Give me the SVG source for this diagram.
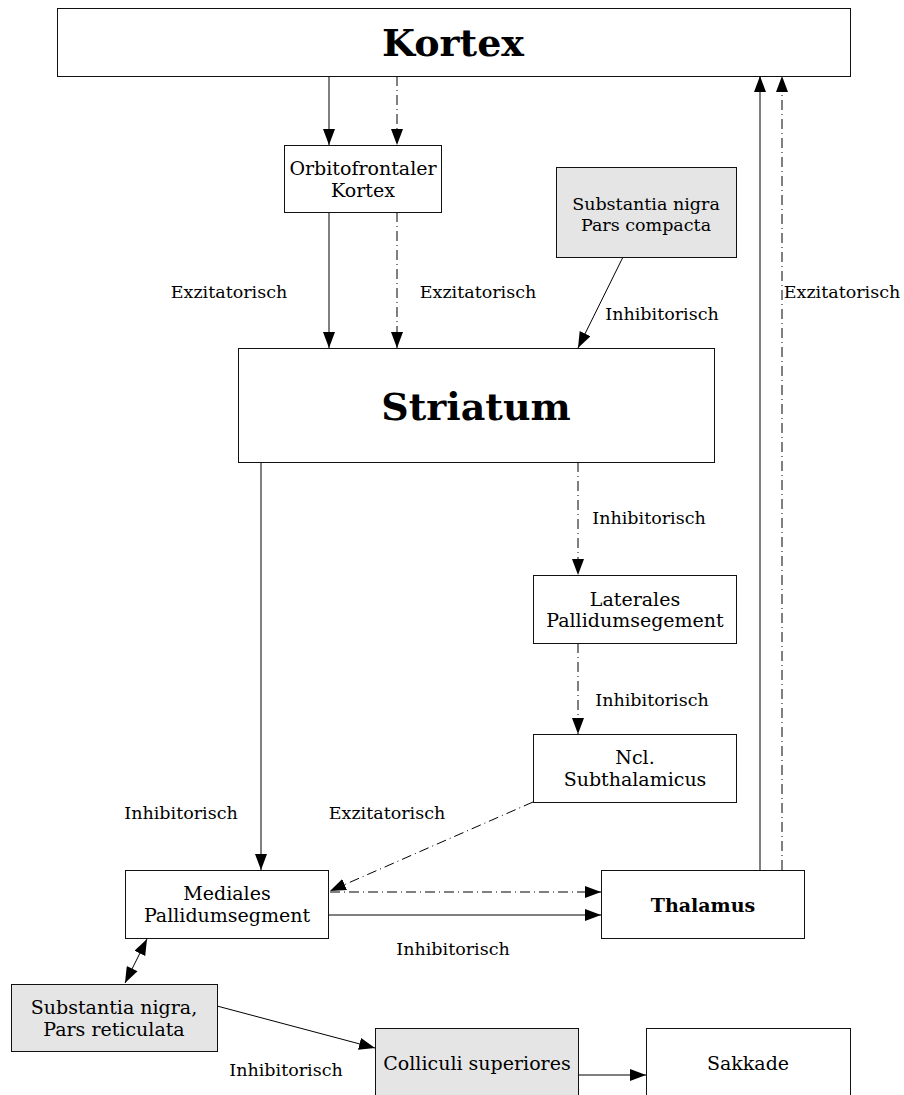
<svg xmlns="http://www.w3.org/2000/svg" width="904" height="1095" viewBox="0 0 904 1095">
<style>
.box{fill:#fff;stroke:#111;stroke-width:1}
.gray{fill:#e5e5e5;stroke:#111;stroke-width:1}
text{font-family:"DejaVu Serif","Liberation Serif",serif;fill:#000;text-anchor:middle}
.t{font-size:19px}
.s{font-size:17.5px}
.lbl{font-size:17.5px}
.big{font-size:38px;font-weight:bold}
.bold{font-size:19px;font-weight:bold}
.e{stroke:#000;stroke-width:1;fill:none;marker-end:url(#ah)}
.d{stroke-dasharray:10,4,1,4}
</style>
<defs>
<marker id="ah" markerUnits="userSpaceOnUse" markerWidth="18" markerHeight="14" refX="16" refY="6" orient="auto"><path d="M0,0 L16,6 L0,12 Z" fill="#000"/></marker>
<marker id="as" markerUnits="userSpaceOnUse" markerWidth="18" markerHeight="14" refX="0" refY="6" orient="auto"><path d="M16,0 L0,6 L16,12 Z" fill="#000"/></marker>
</defs>
<g id="connectors">
<line class="e" x1="329" y1="76" x2="329" y2="145"/>
<line class="e d" x1="397" y1="76" x2="397" y2="145"/>
<line class="e" x1="329" y1="212" x2="329" y2="348"/>
<line class="e d" x1="397" y1="212" x2="397" y2="348"/>
<line class="e" x1="623" y1="257" x2="578" y2="348"/>
<line class="e" x1="261" y1="462" x2="261" y2="870"/>
<line class="e d" x1="578" y1="462" x2="578" y2="575"/>
<line class="e d" x1="578" y1="643" x2="578" y2="734"/>
<line class="e d" x1="533" y1="802" x2="330" y2="891"/>
<line class="e d" x1="330" y1="892" x2="601" y2="892"/>
<line class="e" x1="328" y1="915" x2="601" y2="915"/>
<line class="e" x1="760" y1="870" x2="760" y2="76"/>
<line class="e d" x1="782" y1="870" x2="782" y2="76"/>
<line class="e" x1="125" y1="983" x2="147" y2="939" style="marker-start:url(#as)"/>
<line class="e" x1="217" y1="1006" x2="375" y2="1048"/>
<line class="e" x1="578" y1="1075" x2="646" y2="1075"/>
<text class="lbl" x="229" y="298">Exzitatorisch</text>
<text class="lbl" x="478" y="298">Exzitatorisch</text>
<text class="lbl" x="662" y="320">Inhibitorisch</text>
<text class="lbl" x="842" y="298">Exzitatorisch</text>
<text class="lbl" x="649" y="524">Inhibitorisch</text>
<text class="lbl" x="652" y="706">Inhibitorisch</text>
<text class="lbl" x="181" y="819">Inhibitorisch</text>
<text class="lbl" x="387" y="819">Exzitatorisch</text>
<text class="lbl" x="453" y="955">Inhibitorisch</text>
<text class="lbl" x="286" y="1076">Inhibitorisch</text>
</g>
<g id="kortex"><rect class="box" x="57.500" y="8.500" width="793" height="68"/><text class="big" x="453" y="56">Kortex</text></g>
<g id="orbitofrontal"><rect class="box" x="284.500" y="145.500" width="157" height="67"/><text class="t" x="363" y="175">Orbitofrontaler</text><text class="t" x="363" y="197">Kortex</text></g>
<g id="sn-compacta"><rect class="gray" x="556.500" y="167.500" width="180" height="90"/><text class="s" x="646" y="210">Substantia nigra</text><text class="s" x="646" y="231">Pars compacta</text></g>
<g id="striatum"><rect class="box" x="238.500" y="348.500" width="476" height="114"/><text class="big" x="476" y="420">Striatum</text></g>
<g id="laterales"><rect class="box" x="533.500" y="575.500" width="203" height="68"/><text class="t" x="635" y="606">Laterales</text><text class="t" x="635" y="627">Pallidumsegement</text></g>
<g id="ncl-subthalamicus"><rect class="box" x="533.500" y="734.500" width="203" height="68"/><text class="t" x="635" y="764">Ncl.</text><text class="t" x="635" y="786">Subthalamicus</text></g>
<g id="mediales"><rect class="box" x="125.500" y="870.500" width="203" height="68"/><text class="t" x="227" y="900">Mediales</text><text class="t" x="227" y="922">Pallidumsegment</text></g>
<g id="thalamus"><rect class="box" x="601.500" y="870.500" width="203" height="68"/><text class="bold" x="703" y="912">Thalamus</text></g>
<g id="sn-reticulata"><rect class="gray" x="11.500" y="984.500" width="206" height="67"/><text class="t" x="114" y="1014">Substantia nigra,</text><text class="t" x="114" y="1036">Pars reticulata</text></g>
<g id="colliculi"><rect class="gray" x="375.500" y="1028.500" width="203" height="80"/><text class="t" x="477" y="1070">Colliculi superiores</text></g>
<g id="sakkade"><rect class="box" x="646.500" y="1028.500" width="204" height="80"/><text class="t" x="748" y="1070">Sakkade</text></g>
</svg>
